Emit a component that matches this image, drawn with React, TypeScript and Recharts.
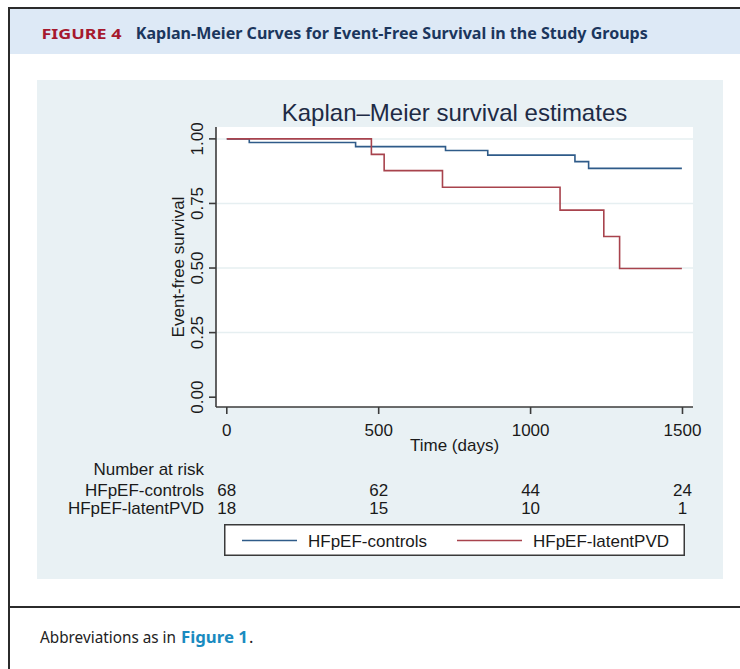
import React from 'react';
import { LineChart, Line, XAxis, YAxis, CartesianGrid, Legend } from 'recharts';

// ---- data ----
const timeTicks = [0, 500, 1000, 1500];
const survivalTicks = [0, 0.25, 0.5, 0.75, 1];
const gridValues = [0.25, 0.5, 0.75, 1];

const controlsTime = [0, 74, 424, 720, 859, 1146, 1191, 1498];
const controlsSurv = [1, 0.986, 0.97, 0.955, 0.937, 0.912, 0.886, 0.886];
const latentTime = [0, 476, 518, 710, 1097, 1241, 1293, 1498];
const latentSurv = [1, 0.94, 0.877, 0.813, 0.724, 0.622, 0.498, 0.498];

const riskControls = [68, 62, 44, 24];
const riskLatent = [18, 15, 10, 1];

const seriesNames = ['HFpEF-controls', 'HFpEF-latentPVD'];
const seriesColors = ['#2f5b89', '#a8434d'];

const controlsData = controlsTime.map((t, i) => ({ t, s: controlsSurv[i] }));
const latentData = latentTime.map((t, i) => ({ t, s: latentSurv[i] }));

// ---- style ----
const FONT = '"Liberation Sans", Arial, sans-serif';
const HEAD_FONT = '"Noto Sans", "Open Sans", sans-serif';
const TXT = '#1a1a1a';
const AXIS = '#3b3b3b';

const YTick = (p: any) => {
  const bx = p.x - 6.3;
  return (
    <text x={bx} y={p.y} transform={`rotate(-90 ${bx} ${p.y})`} textAnchor="middle"
      fontSize={17} fill={TXT} fontFamily={FONT}>
      {Number(p.payload.value).toFixed(2)}
    </text>
  );
};

const XTick = (p: any) => (
  <text x={p.x} y={p.y + 22} textAnchor="middle" fontSize={17} fill={TXT} fontFamily={FONT}>
    {p.payload.value}
  </text>
);

const riskTick = (arr: number[], dy: number) => (p: any) => (
  <text x={p.x} y={p.y + dy} textAnchor="middle" fontSize={17} fill={TXT} fontFamily={FONT}>
    {arr[timeTicks.indexOf(p.payload.value)]}
  </text>
);

const LegendBox = (props: any) => {
  const payload = props.payload || [];
  const slots = [
    { x1: 18, x2: 73, tx: 84 },
    { x1: 233, x2: 298, tx: 309 },
  ];
  return (
    <svg width={461} height={32} style={{ display: 'block' }}>
      <rect x={0.75} y={0.75} width={459.5} height={30.5} fill="#ffffff" stroke="#3a3a3a" strokeWidth={1.5} />
      {payload.map((e: any, i: number) => {
        const s = slots[i] || slots[0];
        return (
          <g key={i}>
            <line x1={s.x1} x2={s.x2} y1={16.5} y2={16.5} stroke={e.color} strokeWidth={1.6} />
            <text x={s.tx} y={23} fontSize={17} fill={TXT} fontFamily={FONT}>{e.value}</text>
          </g>
        );
      })}
    </svg>
  );
};

export default function App() {
  return (
    <div style={{ position: 'fixed', left: 0, top: 0, width: 740, height: 669, overflow: 'hidden', background: '#ffffff' }}>
      {/* frame */}
      <div style={{ position: 'absolute', left: 8, top: 7, width: 732, height: 2, background: '#2b2b2b' }} />
      <div style={{ position: 'absolute', left: 8, top: 7, width: 2, height: 662, background: '#2b2b2b' }} />
      <div style={{ position: 'absolute', left: 10, top: 9, width: 730, height: 45, background: '#dde9f6' }} />
      <svg style={{ position: 'absolute', left: 0, top: 0 }} width={740} height={60}>
        <text x={41.5} y={38.7} fontSize={14.5} fontWeight={700} fill="#a6192e" fontFamily={HEAD_FONT}
          textLength={80} lengthAdjust="spacingAndGlyphs">FIGURE 4</text>
        <text x={135.8} y={39} fontSize={16.5} fontWeight={700} fill="#1b365d" fontFamily={HEAD_FONT}
          textLength={512} lengthAdjust="spacingAndGlyphs">Kaplan-Meier Curves for Event-Free Survival in the Study Groups</text>
      </svg>

      {/* chart panel */}
      <div style={{ position: 'absolute', left: 37, top: 80, width: 686, height: 499, background: '#e9f1f4' }} />
      <svg style={{ position: 'absolute', left: 0, top: 80 }} width={740} height={50}>
        <text x={454.5} y={41} textAnchor="middle" fontSize={24} fill="#1e2b45" fontFamily={FONT}>
          Kaplan–Meier survival estimates
        </text>
      </svg>
      <div style={{ position: 'absolute', left: 37, top: 80 }}>
        <LineChart width={686} height={499} margin={{ top: 47, right: 30, left: 129, bottom: 64 }}>
          <CartesianGrid vertical={false} horizontalValues={gridValues} stroke="#e6eff1" strokeWidth={1.5} fill="#ffffff" fillOpacity={1} />
          <XAxis dataKey="t" type="number" domain={[-35.5, 1534.6]} allowDataOverflow ticks={timeTicks}
            height={46} tickSize={7} tickMargin={0} tick={XTick}
            axisLine={{ stroke: AXIS, strokeWidth: 1.6 }} tickLine={{ stroke: AXIS, strokeWidth: 1.6 }}
            label={{
              content: (props: any) => {
                const vb = props.viewBox || {};
                return (
                  <text x={vb.x + vb.width / 2} y={vb.y + 44} textAnchor="middle" fontSize={17} fill={TXT} fontFamily={FONT}>
                    Time (days)
                  </text>
                );
              },
            }} />
          <XAxis xAxisId="rc" dataKey="t" type="number" domain={[-35.5, 1534.6]} allowDataOverflow ticks={timeTicks}
            height={42} tickSize={0} tickMargin={0} axisLine={false} tickLine={false} tick={riskTick(riskControls, 42.7)}
            label={{
              content: (props: any) => {
                const vb = props.viewBox || {};
                return (
                  <g>
                    <text x={vb.x - 12} y={vb.y + 22} textAnchor="end" fontSize={17} fill={TXT} fontFamily={FONT}>Number at risk</text>
                    <text x={vb.x - 12} y={vb.y + 42.7} textAnchor="end" fontSize={17} fill={TXT} fontFamily={FONT}>{seriesNames[0]}</text>
                  </g>
                );
              },
            }} />
          <XAxis xAxisId="rl" dataKey="t" type="number" domain={[-35.5, 1534.6]} allowDataOverflow ticks={timeTicks}
            height={20} tickSize={0} tickMargin={0} axisLine={false} tickLine={false} tick={riskTick(riskLatent, 19)}
            label={{
              content: (props: any) => {
                const vb = props.viewBox || {};
                return (
                  <text x={vb.x - 12} y={vb.y + 19} textAnchor="end" fontSize={17} fill={TXT} fontFamily={FONT}>{seriesNames[1]}</text>
                );
              },
            }} />
          <YAxis type="number" domain={[-0.038, 1.046]} allowDataOverflow ticks={survivalTicks} width={50}
            tickSize={7} tickMargin={0} tick={YTick}
            axisLine={{ stroke: AXIS, strokeWidth: 1.6 }} tickLine={{ stroke: AXIS, strokeWidth: 1.6 }}
            label={{
              content: (props: any) => {
                const vb = props.viewBox || {};
                const bx = vb.x + 18;
                const cy = vb.y + vb.height / 2;
                return (
                  <text x={bx} y={cy} transform={`rotate(-90 ${bx} ${cy})`} textAnchor="middle" fontSize={17} fill={TXT} fontFamily={FONT}>
                    Event-free survival
                  </text>
                );
              },
            }} />
          <Line data={controlsData} dataKey="s" name={seriesNames[0]} type="stepAfter" stroke={seriesColors[0]}
            strokeWidth={1.6} dot={false} activeDot={false} isAnimationActive={false} />
          <Line data={latentData} dataKey="s" name={seriesNames[1]} type="stepAfter" stroke={seriesColors[1]}
            strokeWidth={1.6} dot={false} activeDot={false} isAnimationActive={false} />
          <Legend verticalAlign="middle" align="center" layout="horizontal" content={LegendBox}
            wrapperStyle={{ position: 'absolute', left: 187, top: 444, width: 461, height: 32, margin: 0 }} />
        </LineChart>
      </div>

      {/* footer */}
      <div style={{ position: 'absolute', left: 10, top: 606, width: 730, height: 2, background: '#2b2b2b' }} />
      <svg style={{ position: 'absolute', left: 0, top: 610 }} width={740} height={50}>
        <text x={40} y={33} fontSize={16.5} fill="#222222" fontFamily={HEAD_FONT} textLength={136} lengthAdjust="spacingAndGlyphs">
          Abbreviations as in
        </text>
        <text x={181} y={33} fontSize={16.5} fontWeight={700} fill="#1a8bc0" fontFamily={HEAD_FONT} textLength={67} lengthAdjust="spacingAndGlyphs">
          Figure 1
        </text>
        <text x={249} y={33} fontSize={16.5} fill="#222222" fontFamily={HEAD_FONT}>.</text>
      </svg>
    </div>
  );
}
